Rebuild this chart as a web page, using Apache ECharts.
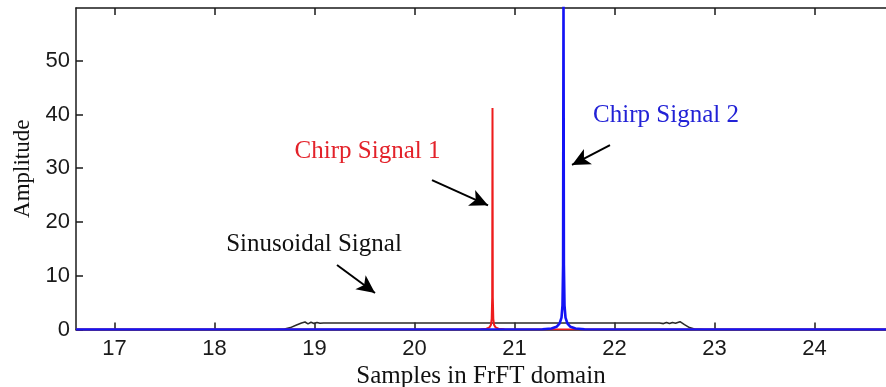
<!DOCTYPE html>
<html>
<head>
<meta charset="utf-8">
<script src="https://cdn.jsdelivr.net/npm/echarts@6/dist/echarts.min.js"></script>
<style>
html,body{margin:0;padding:0;background:#fff;}
#c{width:886px;height:387px;}
</style>
</head>
<body>
<div id="c"></div>
<script>
// ---- data ----
var xTicks = [17, 18, 19, 20, 21, 22, 23, 24];
var yTicks = [0, 10, 20, 30, 40, 50];
var xRange = [16.615, 24.715];
var yRange = [0, 59.8];

var sinusoidal = [
  [16.615, 0], [18.6, 0], [18.7, 0.1], [18.76, 0.35], [18.82, 0.85], [18.87, 1.2],
  [18.905, 1.4], [18.935, 1.05], [18.965, 1.35], [18.995, 1.1], [19.025, 1.3],
  [19.055, 1.15], [19.09, 1.2], [22.45, 1.2], [22.49, 1.1], [22.52, 1.3],
  [22.55, 1.1], [22.58, 1.3], [22.61, 1.15], [22.655, 1.45], [22.7, 0.9],
  [22.75, 0.35], [22.8, 0.08], [22.9, 0], [24.715, 0]
];
var chirp1 = [
  [16.615, 0], [20.66, 0.03], [20.72, 0.15], [20.75, 0.4], [20.765, 0.9],
  [20.772, 2], [20.777, 6], [20.78, 41.2], [20.783, 6], [20.788, 2],
  [20.795, 0.9], [20.81, 0.4], [20.84, 0.15], [20.9, 0.03], [24.715, 0]
];
var chirp2 = [
  [16.615, 0], [21.28, 0.05], [21.37, 0.2], [21.42, 0.5], [21.45, 1.1],
  [21.47, 2.2], [21.48, 4.5], [21.486, 12], [21.49, 62], [21.494, 12],
  [21.5, 4.5], [21.51, 2.2], [21.53, 1.1], [21.56, 0.5], [21.61, 0.2],
  [21.7, 0.05], [24.715, 0]
];

// annotations (data coordinates)
var arrows = [
  [[20.175, 27.8], [20.735, 23.1]],
  [[21.955, 34.3], [21.575, 30.6]],
  [[19.225, 12.0], [19.605, 6.8]]
];
var labels = [
  {text: 'Chirp Signal 1', at: [19.53, 33.2], color: '#e3222a'},
  {text: 'Chirp Signal 2', at: [22.515, 39.9], color: '#2222d6'},
  {text: 'Sinusoidal Signal', at: [18.995, 15.9], color: '#111111'}
];

var sansFont = '"Liberation Sans", Arial, sans-serif';
var serifFont = '"Liberation Serif", "Times New Roman", serif';

var chart = echarts.init(document.getElementById('c'), null, {renderer: 'canvas'});

var axisCommon = {
  type: 'value',
  min: xRange[0],
  max: xRange[1],
  splitLine: {show: false},
  axisLine: {show: true, onZero: false, lineStyle: {color: '#1a1a1a', width: 1.5}}
};

var option = {
  animation: false,
  backgroundColor: '#ffffff',
  grid: {left: 76, right: 0, top: 8, bottom: 57.5, containLabel: false, outerBoundsMode: 'none'},
  xAxis: [
    Object.assign({}, axisCommon, {
      position: 'bottom',
      name: 'Samples in FrFT domain',
      nameLocation: 'middle',
      nameGap: 30,
      nameTextStyle: {fontFamily: serifFont, fontSize: 25, color: '#111'},
      axisTick: {show: true, inside: true, length: 7, customValues: xTicks, lineStyle: {color: '#1a1a1a', width: 1.5}},
      axisLabel: {show: true, customValues: xTicks, fontFamily: sansFont, fontSize: 22, color: '#1a1a1a', margin: 8}
    }),
    Object.assign({}, axisCommon, {
      position: 'top',
      axisTick: {show: true, inside: true, length: 7, customValues: xTicks, lineStyle: {color: '#1a1a1a', width: 1.5}},
      axisLabel: {show: false}
    })
  ],
  yAxis: {
    type: 'value',
    min: yRange[0],
    max: yRange[1],
    splitLine: {show: false},
    name: 'Amplitude',
    nameLocation: 'middle',
    nameGap: 42,
    nameTextStyle: {fontFamily: serifFont, fontSize: 23, color: '#111'},
    axisLine: {show: true, lineStyle: {color: '#1a1a1a', width: 1.5}},
    axisTick: {show: true, inside: true, length: 7, customValues: yTicks, lineStyle: {color: '#1a1a1a', width: 1.5}},
    axisLabel: {show: true, customValues: yTicks, fontFamily: sansFont, fontSize: 22, color: '#1a1a1a', margin: 6}
  },
  series: [
    {
      name: 'Sinusoidal Signal',
      type: 'line',
      data: sinusoidal,
      showSymbol: false,
      symbol: 'none',
      lineStyle: {color: '#2b2b2b', width: 1.6},
      z: 2,
      markLine: {
        silent: true,
        symbol: ['none', 'arrow'],
        symbolSize: [13, 18],
        label: {show: false},
        lineStyle: {color: '#000', width: 2, type: 'solid'},
        emphasis: {disabled: true},
        data: arrows.map(function (a) {
          return [{coord: a[0]}, {coord: a[1]}];
        })
      }
    },
    {
      name: 'Chirp Signal 1',
      type: 'line',
      data: chirp1,
      showSymbol: false,
      symbol: 'none',
      lineStyle: {color: '#ee1c1c', width: 2},
      z: 3
    },
    {
      name: 'Chirp Signal 2',
      type: 'line',
      data: chirp2,
      showSymbol: false,
      symbol: 'none',
      lineStyle: {color: '#1414f5', width: 2.6},
      z: 4
    }
  ]
};

chart.setOption(option);

var graphics = labels.map(function (l) {
  var p = chart.convertToPixel({xAxisIndex: 0, yAxisIndex: 0}, l.at);
  return {
    type: 'text',
    x: p[0],
    y: p[1],
    z: 10,
    style: {
      text: l.text,
      fill: l.color,
      font: '25px ' + serifFont,
      align: 'center',
      verticalAlign: 'middle'
    }
  };
});
chart.setOption({graphic: graphics});
</script>
</body>
</html>
